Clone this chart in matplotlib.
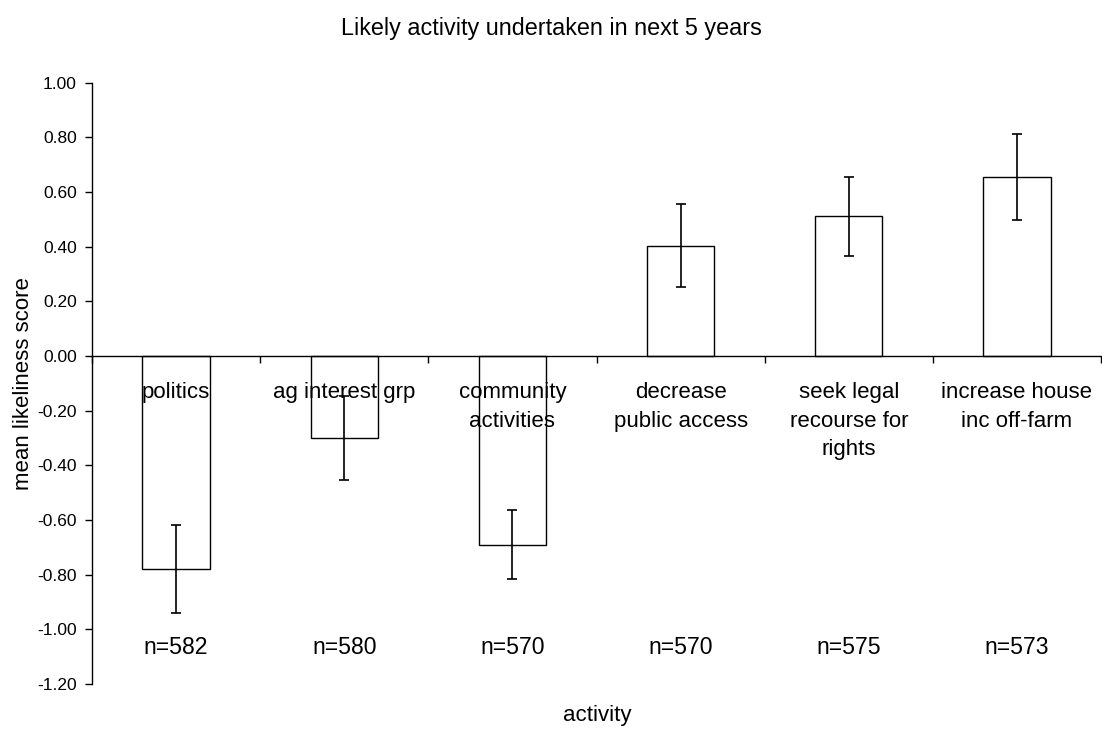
import matplotlib
matplotlib.use("Agg")
import matplotlib.pyplot as plt
import numpy as np

categories = ["politics", "ag interest grp", "community\nactivities",
              "decrease\npublic access", "seek legal\nrecourse for\nrights",
              "increase house\ninc off-farm"]
means = [-0.78, -0.30, -0.69, 0.403, 0.511, 0.655]
errors = [0.160, 0.155, 0.127, 0.152, 0.145, 0.158]
n_labels = ["n=582", "n=580", "n=570", "n=570", "n=575", "n=573"]
yticks = [-1.2, -1.0, -0.8, -0.6, -0.4, -0.2, 0.0, 0.2, 0.4, 0.6, 0.8, 1.0]

plt.rcParams['font.family'] = ['Liberation Sans', 'DejaVu Sans']

fig = plt.figure(figsize=(11.02, 7.31), dpi=100)
ax = fig.add_axes([92/1102, 1-684/731, (1101-92)/1102, (684-82.7)/731])

x = np.arange(len(categories)) + 0.5
ax.bar(x, means, width=0.40, facecolor='none', edgecolor='black', linewidth=1.0, zorder=2)
ax.errorbar(x, means, yerr=errors, fmt='none', ecolor='black', elinewidth=1.2,
            capsize=3.3, capthick=1.2, zorder=3)

ax.set_xlim(0, len(categories))
ax.set_ylim(-1.2, 1.0)
ax.set_yticks(yticks)
ax.set_yticklabels([f"{v:.2f}" for v in yticks], fontsize=12.5)

ax.spines['top'].set_visible(False)
ax.spines['right'].set_visible(False)
ax.spines['bottom'].set_position(('data', 0))
ax.spines['left'].set_linewidth(1.0)
ax.spines['bottom'].set_linewidth(1.0)

ax.set_xticks(x)
ax.set_xticklabels(categories, fontsize=16, linespacing=1.45, va='top')
ax.set_xticks(np.arange(len(categories) + 1), minor=True)
ax.tick_params(axis='x', which='major', length=0, pad=19)
ax.tick_params(axis='x', which='minor', length=5, direction='out', width=1.0)
ax.tick_params(axis='y', length=5, width=1.0, direction='out', pad=6)

for xi, lab in zip(x, n_labels):
    ax.text(xi, -1.068, lab, ha='center', va='center', fontsize=16.6)

fig.text(24/1102, 1-384/731, "mean likeliness score", rotation=90,
         ha='center', va='center', fontsize=16)
fig.text(597/1102, 1-716/731, "activity", ha='center', va='center', fontsize=16)
fig.text(0.5, 1-29/731, "Likely activity undertaken in next 5 years",
         ha='center', va='center', fontsize=16.8)

fig.savefig("out.png", dpi=100)
